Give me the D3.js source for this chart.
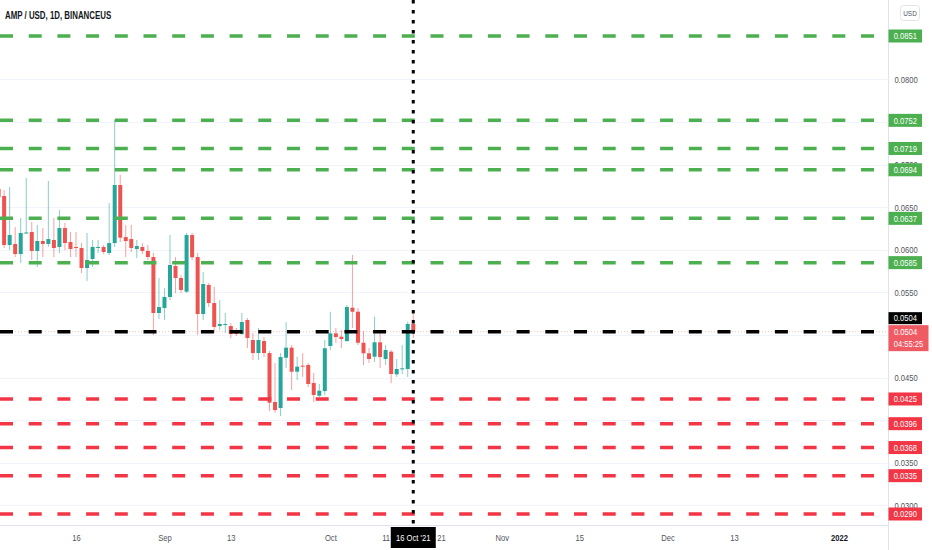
<!DOCTYPE html>
<html><head><meta charset="utf-8">
<script src="https://cdn.jsdelivr.net/npm/d3@7"></script>
<style>html,body{margin:0;padding:0;background:#fff;} svg{display:block;}</style>
</head><body>
<svg id="chart" width="932" height="550"></svg>
<script>
// ---------- data ----------
const title = "AMP / USD, 1D, BINANCEUS";
const firstDay = "2021-08-02";
const lastDay = "2021-10-16";
const open  = [0.06714,0.06632,0.06057,0.06069,0.05951,0.06198,0.06210,0.05987,0.06104,0.06069,
               0.06116,0.06034,0.06256,0.06092,0.06034,0.06022,0.05787,0.05893,0.06030,0.06034,
               0.05963,0.06080,0.06761,0.06150,0.06127,0.06010,0.06034,0.05987,0.05916,0.05259,
               0.05318,0.05447,0.05811,0.05670,0.05509,0.06174,0.05916,0.05247,0.05588,0.05376,
               0.05106,0.05124,0.05106,0.05059,0.05012,0.05177,0.04942,0.04789,0.04930,0.04789,
               0.04214,0.04144,0.04734,0.04852,0.04570,0.04641,0.04649,0.04437,0.04288,0.04343,
               0.04872,0.05020,0.04981,0.04930,0.05321,0.05274,0.04910,0.04786,0.04746,0.04915,
               0.04719,0.04805,0.04539,0.04598,0.04602,0.05130];
const high  = [0.06761,0.06702,0.06738,0.06268,0.06374,0.06843,0.06327,0.06292,0.06256,0.06808,
               0.06374,0.06468,0.06315,0.06210,0.06210,0.06080,0.06198,0.06116,0.06116,0.06057,
               0.06550,0.07524,0.06879,0.06292,0.06292,0.06116,0.06080,0.06057,0.05963,0.05670,
               0.05552,0.06174,0.05916,0.05705,0.06198,0.06198,0.05963,0.05740,0.05611,0.05564,
               0.05411,0.05259,0.05142,0.05083,0.05259,0.05200,0.05024,0.05083,0.04977,0.04813,
               0.04672,0.04789,0.05153,0.04883,0.04746,0.04789,0.04672,0.04555,0.04426,0.04942,
               0.05274,0.05083,0.05059,0.05353,0.05940,0.05318,0.05047,0.04848,0.05218,0.05024,
               0.04883,0.04825,0.04719,0.04883,0.05157,0.05247];
const low   = [0.06585,0.06022,0.05998,0.05916,0.05846,0.06186,0.05881,0.05799,0.05916,0.06034,
               0.05916,0.05963,0.05998,0.05916,0.05916,0.05728,0.05634,0.05799,0.05963,0.05951,
               0.05940,0.06034,0.06092,0.05916,0.05975,0.05904,0.05951,0.05881,0.05001,0.05188,
               0.05177,0.05411,0.05494,0.05494,0.05494,0.05881,0.05001,0.05177,0.05329,0.05024,
               0.05059,0.05024,0.04965,0.04989,0.05001,0.04848,0.04707,0.04707,0.04742,0.04109,
               0.04085,0.04050,0.04614,0.04355,0.04472,0.04508,0.04390,0.04214,0.04273,0.04296,
               0.04825,0.04907,0.04848,0.04919,0.05083,0.04883,0.04649,0.04672,0.04684,0.04614,
               0.04649,0.04434,0.04508,0.04543,0.04508,0.04965];
const close = [0.06620,0.06057,0.06174,0.05951,0.06198,0.06204,0.05987,0.06104,0.06069,0.06127,
               0.06022,0.06256,0.06080,0.06010,0.06022,0.05787,0.05881,0.06034,0.06034,0.05975,
               0.06080,0.06761,0.06143,0.06104,0.06022,0.06045,0.05987,0.05916,0.05259,0.05329,
               0.05447,0.05822,0.05670,0.05529,0.06174,0.05913,0.05247,0.05599,0.05376,0.05095,
               0.05130,0.05130,0.05012,0.05012,0.05153,0.04965,0.04789,0.04942,0.04789,0.04206,
               0.04120,0.04742,0.04852,0.04570,0.04629,0.04629,0.04426,0.04296,0.04347,0.04845,
               0.05020,0.04977,0.04954,0.05329,0.05274,0.04910,0.04786,0.04719,0.04915,0.04742,
               0.04825,0.04543,0.04602,0.04610,0.05130,0.05040];

const resistanceLevels = [0.0851, 0.0752, 0.0719, 0.0694, 0.0637, 0.0585];
const pivotLevel = 0.0504;
const supportLevels = [0.0425, 0.0396, 0.0368, 0.0335, 0.0290];
const lastPrice = 0.0504;
const countdown = "04:55:25";
const currency = "USD";

const priceTicks = [0.0300,0.0350,0.0400,0.0450,0.0500,0.0550,0.0600,0.0650,0.0700,0.0750,0.0800];
const timeTickDates  = ["2021-08-16","2021-09-01","2021-09-13","2021-10-01","2021-10-11","2021-10-21",
                        "2021-11-01","2021-11-15","2021-12-01","2021-12-13","2022-01-01"];
const timeTickLabels = ["16","Sep","13","Oct","11","21","Nov","15","Dec","13","2022"];
const crosshairDate = "2021-10-16";
const crosshairLabel = "16 Oct '21";

// ---------- layout ----------
const W = 932, H = 550, plotR = 888, plotB = 525;
const FONT = "'Liberation Sans',Arial,sans-serif";
const GREEN = "#26a69a", RED = "#ef5350";
const LVL_G = "#4caf50", LVL_R = "#f23645";
const K = 0.8; // horizontal condensing of text (TradingView UI font is narrow)

function condense(sel, k) {
  sel.each(function () {
    const w = this.getComputedTextLength();
    d3.select(this).attr("textLength", w * k).attr("lengthAdjust", "spacingAndGlyphs");
  });
  return sel;
}

const parse = d3.utcParse("%Y-%m-%d");
const days = d3.utcDay.range(parse(firstDay), d3.utcDay.offset(parse(lastDay), 1));
const candles = days.map((d, i) => ({date: d, o: open[i], h: high[i], l: low[i], c: close[i]}));

const x = d3.scaleUtc().domain([parse("2021-08-16"), parse("2022-01-01")]).range([76, 839]);
const y = d3.scaleLinear().domain([0.0290, 0.0851]).range([514, 36]);

const svg = d3.select("#chart");
svg.append("rect").attr("width", W).attr("height", H).attr("fill", "#fff");

svg.append("defs").append("clipPath").attr("id", "plotclip")
  .append("rect").attr("x", 0).attr("y", 0).attr("width", plotR).attr("height", plotB);

const plot = svg.append("g").attr("clip-path", "url(#plotclip)");

// grid
plot.append("g").selectAll("line").data(priceTicks).join("line")
  .attr("x1", 0).attr("x2", plotR)
  .attr("y1", d => Math.round(y(d)) + 0.5).attr("y2", d => Math.round(y(d)) + 0.5)
  .attr("stroke", "#f0f3fa").attr("stroke-width", 1);

// candles
const bw = 4;
const cg = plot.append("g").selectAll("g").data(candles).join("g");
cg.append("line")
  .attr("x1", d => x(d.date)).attr("x2", d => x(d.date))
  .attr("y1", d => y(d.h)).attr("y2", d => y(d.l))
  .attr("stroke", d => d.c >= d.o ? GREEN : RED).attr("stroke-opacity", 0.55).attr("stroke-width", 1);
cg.append("rect")
  .attr("x", d => x(d.date) - bw / 2).attr("width", bw)
  .attr("y", d => y(Math.max(d.o, d.c)))
  .attr("height", d => Math.max(1, Math.abs(y(d.o) - y(d.c))))
  .attr("fill", d => d.c >= d.o ? GREEN : RED);

// last price line
plot.append("line").attr("x1", 0).attr("x2", plotR)
  .attr("y1", y(lastPrice)).attr("y2", y(lastPrice))
  .attr("stroke", RED).attr("stroke-opacity", 0.35).attr("stroke-width", 1).attr("stroke-dasharray", "1,2");

// level lines
const levels = [
  ...resistanceLevels.map(v => ({v, color: LVL_G})),
  {v: pivotLevel, color: "#000"},
  ...supportLevels.map(v => ({v, color: LVL_R}))
];
plot.append("g").selectAll("line").data(levels).join("line")
  .attr("x1", 0).attr("x2", plotR)
  .attr("y1", d => y(d.v)).attr("y2", d => y(d.v))
  .attr("stroke", d => d.color).attr("stroke-width", 3.5)
  .attr("stroke-dasharray", "13,15.7");

// crosshair vertical
const cx = x(parse(crosshairDate));
svg.append("line").attr("x1", cx).attr("x2", cx).attr("y1", 0).attr("y2", plotB)
  .attr("stroke", "#000").attr("stroke-width", 3).attr("stroke-dasharray", "3.5,6.5");

// axes backgrounds / borders
svg.append("rect").attr("x", plotR).attr("y", 0).attr("width", W - plotR).attr("height", H).attr("fill", "#fff");
svg.append("rect").attr("x", 0).attr("y", plotB).attr("width", plotR).attr("height", H - plotB).attr("fill", "#fff");
svg.append("line").attr("x1", plotR + 0.5).attr("x2", plotR + 0.5).attr("y1", 0).attr("y2", H)
  .attr("stroke", "#e0e3eb");
svg.append("line").attr("x1", 0).attr("x2", plotR).attr("y1", plotB + 0.5).attr("y2", plotB + 0.5)
  .attr("stroke", "#e0e3eb");

// price axis (labels fully covered by level labels are not drawn)
const yl = y(lastPrice);
const covered = v => levels.some(l => l.color !== "#000" && Math.abs(y(l.v) - y(v)) < 3) ||
                     (y(v) > yl - 4 && y(v) < yl + 16);
const visibleTicks = priceTicks.filter(v => !covered(v));
const yAxis = d3.axisRight(y).tickValues(visibleTicks).tickFormat(d3.format(".4f")).tickSize(0).tickPadding(0);
const ya = svg.append("g").attr("transform", `translate(${plotR},0)`).call(yAxis);
ya.select(".domain").remove();
condense(ya.selectAll("text").attr("x", 18).attr("text-anchor", "middle")
  .attr("font-family", FONT).attr("font-size", 9.5).attr("fill", "#50535e"), K);

// time axis
const xAxis = d3.axisBottom(x).tickValues(timeTickDates.map(parse))
  .tickFormat((d, i) => timeTickLabels[i]).tickSize(0).tickPadding(0);
const xa = svg.append("g").attr("transform", `translate(0,${plotB})`).call(xAxis);
xa.select(".domain").remove();
condense(xa.selectAll("text").attr("y", 13).attr("dy", "0.35em")
  .attr("font-family", FONT).attr("font-size", 9.5)
  .attr("font-weight", (d, i) => timeTickLabels[i] === "2022" ? "bold" : "normal")
  .attr("fill", (d, i) => timeTickLabels[i] === "2022" ? "#131722" : "#50535e"), K);

// level labels on price axis
function priceLabel(v, bg, yc, w, h) {
  const g = svg.append("g");
  g.append("rect").attr("x", plotR + 0.5).attr("y", yc - h / 2).attr("width", w).attr("height", h)
    .attr("fill", bg);
  condense(g.append("text").attr("x", plotR + 0.5 + w / 2).attr("y", yc).attr("dy", "0.35em")
    .attr("text-anchor", "middle").attr("font-family", FONT).attr("font-size", 9.5)
    .attr("fill", "#fff").text(d3.format(".4f")(v)), K);
  return g;
}
resistanceLevels.forEach(v => priceLabel(v, LVL_G, y(v), 33.5, 13));
supportLevels.forEach(v => priceLabel(v, LVL_R, y(v), 33.5, 13));

// current price label (two lines)
svg.append("rect").attr("x", plotR + 0.5).attr("y", yl - 6.5).attr("width", 40).attr("height", 26)
  .attr("fill", "#f05a63");
condense(svg.append("text").attr("x", plotR + 17.5).attr("y", yl).attr("dy", "0.35em").attr("text-anchor", "middle")
  .attr("font-family", FONT).attr("font-size", 9.5).attr("fill", "#fff").text(d3.format(".4f")(lastPrice)), K);
condense(svg.append("text").attr("x", plotR + 20.5).attr("y", yl + 12.5).attr("dy", "0.35em").attr("text-anchor", "middle")
  .attr("font-family", FONT).attr("font-size", 9.5).attr("fill", "#fff").text(countdown), K);

// pivot label (pushed above the current price label)
priceLabel(pivotLevel, "#000", yl - 13.5, 33.5, 12);

// crosshair date label
svg.append("rect").attr("x", cx - 22.5).attr("y", plotB + 2).attr("width", 45).attr("height", 21).attr("fill", "#000");
condense(svg.append("text").attr("x", cx).attr("y", plotB + 13).attr("dy", "0.35em").attr("text-anchor", "middle")
  .attr("font-family", FONT).attr("font-size", 9.5).attr("fill", "#fff").text(crosshairLabel), K);

// currency box
svg.append("rect").attr("x", 900.5).attr("y", 5.5).attr("width", 19).attr("height", 15).attr("rx", 3)
  .attr("fill", "#fff").attr("stroke", "#e0e3eb");
condense(svg.append("text").attr("x", 910).attr("y", 13).attr("dy", "0.35em").attr("text-anchor", "middle")
  .attr("font-family", FONT).attr("font-size", 8).attr("fill", "#50535e").text(currency), K);

// title
condense(svg.append("text").attr("x", 5).attr("y", 19)
  .attr("font-family", FONT).attr("font-size", 10.5).attr("font-weight", "bold")
  .attr("fill", "#131722").text(title), 0.75);
</script>
</body></html>
